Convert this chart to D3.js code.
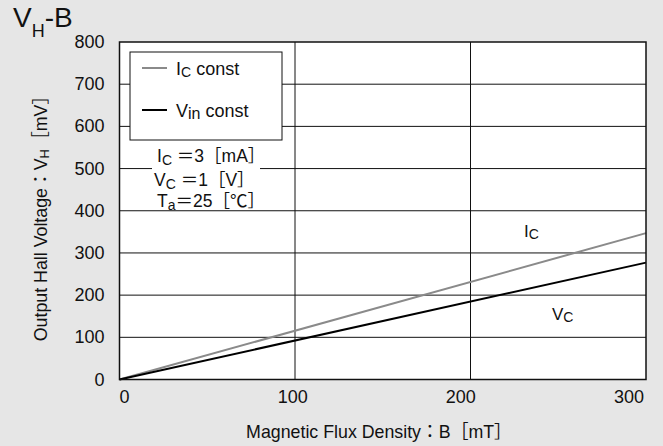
<!DOCTYPE html>
<html>
<head>
<meta charset="utf-8">
<script src="https://cdn.jsdelivr.net/npm/d3@7/dist/d3.min.js"></script>
<style>
  body { margin: 0; background: #e6e6e6; }
  text { font-family: "Liberation Sans", Arial, "Noto Sans CJK JP", sans-serif; fill: #111; }
</style>
</head>
<body>
<svg id="chart" width="663" height="446"></svg>
<script>
// [A] Datos ------------------------------------------------------------------
const fluxB = [0, 300];          // B [mT]
const icConst = [0, 347];        // VH [mV] con Ic constante
const vinConst = [0, 277];       // VH [mV] con Vin constante
const xTicks = [0, 100, 200, 300];
const yTicks = [0, 100, 200, 300, 400, 500, 600, 700, 800];
const conditions = [
    ["I", "C", " ＝3［mA］"],
    ["V", "C", " ＝1［V］"],
    ["T", "a", "＝25［℃］"]
];

// [B] Configuración ----------------------------------------------------------
const width = 663;
const height = 446;
const plot = { left: 119.5, right: 646, top: 42, bottom: 379.5 };

const x = d3.scaleLinear().domain([0, 300]).range([plot.left, plot.right]);
const y = d3.scaleLinear().domain([0, 800]).range([plot.bottom, plot.top]);
// las etiquetas del eje X quedan dentro del borde
const xLabel = d3.scaleLinear().domain([0, 300]).range([plot.left + 5, plot.right - 17]);

const svg = d3.select("#chart");

svg.append("rect").attr("width", width).attr("height", height).attr("fill", "#e6e6e6");

// [C] Área del gráfico y cuadrícula -------------------------------------------
svg.append("rect")
    .attr("x", plot.left).attr("y", plot.top)
    .attr("width", plot.right - plot.left).attr("height", plot.bottom - plot.top)
    .attr("fill", "#fff");

svg.append("g").selectAll("line")
    .data(yTicks.slice(1, -1))
    .join("line")
    .attr("x1", plot.left).attr("x2", plot.right)
    .attr("y1", d => y(d)).attr("y2", d => y(d))
    .attr("stroke", "#111").attr("stroke-width", 1);

svg.append("g").selectAll("line")
    .data(xTicks.slice(1, -1))
    .join("line")
    .attr("x1", d => x(d)).attr("x2", d => x(d))
    .attr("y1", plot.top).attr("y2", plot.bottom)
    .attr("stroke", "#111").attr("stroke-width", 1);

// [D] Etiquetas de ejes -------------------------------------------------------
svg.append("g").selectAll("text")
    .data(yTicks)
    .join("text")
    .attr("x", plot.left - 15)
    .attr("y", d => y(d) + 6)
    .attr("text-anchor", "end")
    .attr("font-size", 18)
    .text(d => d);

svg.append("g").selectAll("text")
    .data(xTicks)
    .join("text")
    .attr("x", d => xLabel(d))
    .attr("y", 403)
    .attr("text-anchor", "middle")
    .attr("font-size", 18)
    .text(d => d);

svg.append("text")
    .attr("x", 379)
    .attr("y", 438)
    .attr("text-anchor", "middle")
    .attr("font-size", 17.8)
    .text("Magnetic Flux Density：B［mT］");

const yTitle = svg.append("text")
    .attr("transform", "translate(47,214) rotate(-90)")
    .attr("text-anchor", "middle")
    .attr("font-size", 17.8);
yTitle.append("tspan").text("Output Hall Voltage：V");
yTitle.append("tspan").attr("font-size", 13).attr("dy", 2).text("H");
yTitle.append("tspan").attr("dy", -2).text("［mV］");

// [E] Título ------------------------------------------------------------------
const title = svg.append("text").attr("x", 13).attr("y", 27).attr("font-size", 28);
title.append("tspan").text("V");
title.append("tspan").attr("font-size", 18).attr("dy", 10).text("H");
title.append("tspan").attr("dy", -10).text("-B");

// [F] Líneas ------------------------------------------------------------------
const line = d3.line().x(d => x(d[0])).y(d => y(d[1]));

svg.append("path")
    .datum(fluxB.map((b, i) => [b, icConst[i]]))
    .attr("d", line)
    .attr("fill", "none").attr("stroke", "#8a8a8a").attr("stroke-width", 2);

svg.append("path")
    .datum(fluxB.map((b, i) => [b, vinConst[i]]))
    .attr("d", line)
    .attr("fill", "none").attr("stroke", "#000").attr("stroke-width", 2);

// etiquetas de las curvas
const icLbl = svg.append("text").attr("x", 524).attr("y", 237).attr("font-size", 17);
icLbl.append("tspan").text("I");
icLbl.append("tspan").attr("font-size", 14).attr("dy", 2).text("C");

const vcLbl = svg.append("text").attr("x", 552).attr("y", 320).attr("font-size", 17);
vcLbl.append("tspan").text("V");
vcLbl.append("tspan").attr("font-size", 14).attr("dy", 2).text("C");

// [G] Leyenda -----------------------------------------------------------------
svg.append("rect")
    .attr("x", 130).attr("y", 52).attr("width", 152).attr("height", 88)
    .attr("fill", "#fff").attr("stroke", "#111").attr("stroke-width", 1);

const legendItems = [
    { main: "I", sub: "C", subSize: 14, color: "#8a8a8a", cy: 68 },
    { main: "V", sub: "in", subSize: 16, color: "#000", cy: 110 }
];

legendItems.forEach(item => {
    svg.append("line")
        .attr("x1", 142).attr("x2", 167)
        .attr("y1", item.cy).attr("y2", item.cy)
        .attr("stroke", item.color).attr("stroke-width", 2);
    const t = svg.append("text").attr("x", 176).attr("y", item.cy + 6.5).attr("font-size", 18);
    t.append("tspan").text(item.main);
    t.append("tspan").attr("font-size", item.subSize).attr("dy", 2).text(item.sub);
    t.append("tspan").attr("dy", -2).text(" const");
});

// [H] Condiciones de medida ---------------------------------------------------
svg.append("rect")
    .attr("x", 152).attr("y", 142).attr("width", 108).attr("height", 67)
    .attr("fill", "#fff");

conditions.forEach((c, i) => {
    const t = svg.append("text")
        .attr("x", i === 1 ? 154 : 157).attr("y", [162, 186, 207][i])
        .attr("font-size", 17.5);
    t.append("tspan").text(c[0]);
    t.append("tspan").attr("font-size", 14).attr("dy", 3).text(c[1]);
    t.append("tspan").attr("dy", -3).text(c[2]);
});

// [I] Borde ---------------------------------------------------------------------
svg.append("rect")
    .attr("x", plot.left).attr("y", plot.top)
    .attr("width", plot.right - plot.left).attr("height", plot.bottom - plot.top)
    .attr("fill", "none").attr("stroke", "#111").attr("stroke-width", 1.5);
</script>
</body>
</html>
